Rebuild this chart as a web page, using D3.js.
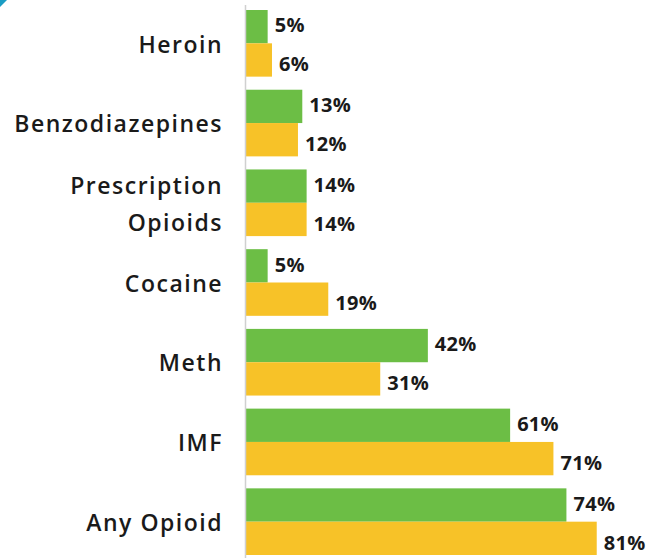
<!DOCTYPE html>
<html lang="en">
<head>
    <meta charset="UTF-8">
    <title>Substances involved</title>
    <script src="https://cdnjs.cloudflare.com/ajax/libs/d3/7.8.5/d3.min.js"></script>
    <style>
        body {
            margin: 0;
            padding: 0;
            background: #ffffff;
        }
        .cat-label {
            font-family: "Open Sans", sans-serif;
            font-weight: 600;
            font-size: 23px;
            letter-spacing: 1.5px;
            fill: #1a1a1a;
        }
        .val-label {
            font-family: "Open Sans", sans-serif;
            font-weight: 700;
            font-size: 20px;
            letter-spacing: 0.3px;
            fill: #1a1a1a;
        }
    </style>
</head>
<body>
    <div id="chart"></div>
    <script>
        // data
        const categories = ["Heroin", "Benzodiazepines", "Prescription Opioids", "Cocaine", "Meth", "IMF", "Any Opioid"];
        const catLines = [["Heroin"], ["Benzodiazepines"], ["Prescription", "Opioids"], ["Cocaine"], ["Meth"], ["IMF"], ["Any Opioid"]];
        const seriesNames = ["first", "second"];
        const firstValues = [5, 13, 14, 5, 42, 61, 74];
        const secondValues = [6, 12, 14, 19, 31, 71, 81];
        const colors = ["#6cbe45", "#f7c228"];

        const width = 648;
        const height = 558;

        const svg = d3.select("#chart")
            .append("svg")
            .attr("width", width)
            .attr("height", height);

        // little corner mark in the top-left
        svg.append("path")
            .attr("d", "M0,0 L7,0 L0,7 Z")
            .attr("fill", "#1b9dc4");

        const x = d3.scaleLinear()
            .domain([0, 100])
            .range([246, 246 + 433]);

        const y = d3.scaleBand()
            .domain(categories)
            .range([10, 555])
            .paddingInner(0.164);

        const ySub = d3.scaleBand()
            .domain(seriesNames)
            .range([0, y.bandwidth()]);

        // labels sit a touch high on green, lower on yellow
        const labelNudge = [-1.5, 4];

        const rows = categories.map((c, i) => ({
            cat: c,
            lines: catLines[i],
            vals: [firstValues[i], secondValues[i]]
        }));

        const group = svg.append("g")
            .selectAll("g")
            .data(rows)
            .enter().append("g")
            .attr("transform", d => `translate(0,${y(d.cat)})`);

        group.selectAll("rect")
            .data(d => d.vals.map((v, j) => ({v, s: seriesNames[j], j})))
            .enter().append("rect")
            .attr("x", x(0))
            .attr("y", d => ySub(d.s))
            .attr("width", d => x(d.v) - x(0))
            .attr("height", ySub.bandwidth())
            .attr("fill", d => colors[d.j]);

        group.selectAll(".val-label")
            .data(d => d.vals.map((v, j) => ({v, s: seriesNames[j], j})))
            .enter().append("text")
            .attr("class", "val-label")
            .attr("x", d => x(d.v) + 7)
            .attr("y", d => ySub(d.s) + ySub.bandwidth() / 2 + labelNudge[d.j])
            .attr("dy", "0.36em")
            .text(d => d.v + "%");

        // category labels
        group.each(function(d) {
            const t = d3.select(this).append("text")
                .attr("class", "cat-label")
                .attr("text-anchor", "end");
            const n = d.lines.length;
            const lh = 37;
            d.lines.forEach((line, k) => {
                t.append("tspan")
                    .attr("x", 223)
                    .attr("y", y.bandwidth() / 2 + 1 + (k - (n - 1) / 2) * lh)
                    .attr("dy", "0.36em")
                    .text(line);
            });
        });

        // vertical axis line
        svg.append("line")
            .attr("x1", 245.5)
            .attr("x2", 245.5)
            .attr("y1", 5)
            .attr("y2", height)
            .attr("stroke", "#d0d0d0")
            .attr("stroke-width", 1.5);
    </script>
</body>
</html>
